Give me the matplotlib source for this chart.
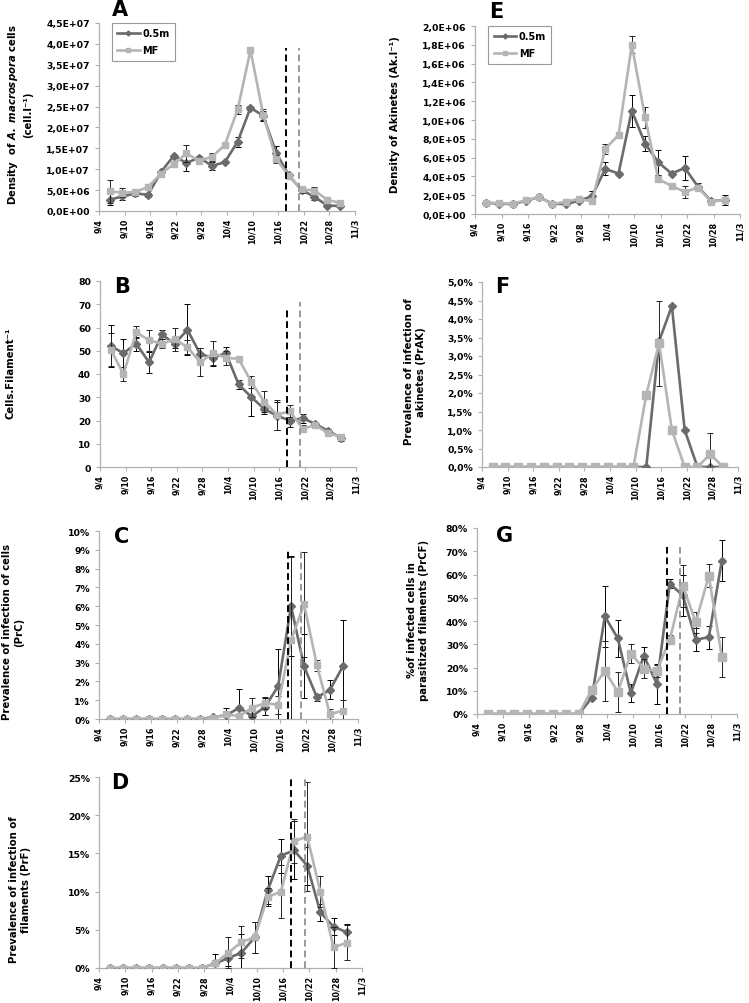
import matplotlib
matplotlib.use('Agg')
from matplotlib import pyplot as plt
from matplotlib.lines import Line2D
import numpy as np

plt.rcParams['font.family'] = 'DejaVu Sans'
plt.rcParams['font.weight'] = 'bold'

# sampling days, counted from 9/4
days = [2.5, 5.5, 8.5, 11.5, 14.5, 17.5, 20.5, 23.5, 26.5, 29.5,
        32.5, 35.5, 38.5, 41.5, 44.5, 47.5, 50.5, 53.5, 56.5]
tick_days = [0, 6, 12, 18, 24, 30, 36, 42, 48, 54, 60]
tick_labels = ['9/4', '9/10', '9/16', '9/22', '9/28', '10/4', '10/10',
               '10/16', '10/22', '10/28', '11/3']
event_days = [43.8, 46.9]

# A - cell density
a_05 = [2.7e6, 3.5e6, 4.2e6, 3.9e6, 9.3e6, 1.32e7, 1.15e7, 1.28e7, 1.08e7, 1.17e7,
        1.66e7, 2.47e7, 2.28e7, 1.4e7, 8.5e6, 5.0e6, 3.4e6, 1.3e6, 1.2e6]
a_05_err = [1.3e6, 0.8e6, 0.6e6, 0.5e6, 0.3e6, 0.3e6, 2.0e6, 0.4e6, 1.0e6, 0.3e6,
            1.2e6, 0.5e6, 1.2e6, 1.6e6, 0.5e6, 0.8e6, 0.7e6, 0.3e6, 0.3e6]
a_mf = [4.7e6, 4.4e6, 4.5e6, 5.8e6, 8.9e6, 1.12e7, 1.38e7, 1.2e7, 1.3e7, 1.58e7,
        2.43e7, 3.85e7, 2.3e7, 1.25e7, 8.4e6, 5.2e6, 4.9e6, 2.7e6, 1.9e6]
a_mf_err = [2.7e6, 1.1e6, 0.5e6, 0.6e6, 0.3e6, 0.3e6, 2.0e6, 0.5e6, 1.0e6, 0.3e6,
            1.1e6, 0.5e6, 1.3e6, 1.0e6, 0.5e6, 0.8e6, 0.8e6, 0.3e6, 0.3e6]

# B - cells per filament
b_05 = [52, 49, 53, 45, 57, 53, 59, 48.5, 47, 49, 35.5, 30, 25, 22, 20, 21, 18.5, 15.5, 12.5]
b_05_err = [9, 6, 3, 4.5, 2, 2, 11, 2.5, 3.5, 2.5, 2, 8, 2, 6, 3, 2, 1, 1, 1.5]
b_mf = [50.5, 40, 58, 54.5, 53, 55, 51.5, 45, 49, 47, 46.5, 36.5, 28, 22.5, 24, 16.5, 18, 14.5, 13]
b_mf_err = [7, 3, 2.5, 4.5, 2, 5, 3, 6, 5, 3, 1, 2.5, 4.5, 6.5, 2.5, 1.5, 1, 1, 1]

# C - prevalence of infection of cells (%)
c_05 = [0, 0, 0, 0, 0, 0, 0, 0, 0.1, 0.2, 0.6, 0.15, 0.65, 1.75, 6.0, 2.8, 1.15, 1.55, 2.8]
c_05_err = [0, 0, 0, 0, 0, 0, 0, 0, 0, 0.4, 1.0, 0.1, 0.45, 2.0, 2.65, 1.7, 0.2, 0.5, 2.45]
c_mf = [0, 0, 0, 0, 0, 0, 0, 0, 0.05, 0.25, 0.15, 0.6, 0.85, 0.75, 4.2, 6.1, 2.85, 0.25, 0.45]
c_mf_err = [0, 0, 0, 0, 0, 0, 0, 0, 0, 0.1, 0.1, 0.5, 0.3, 0.5, 4.4, 2.8, 0.3, 0.3, 0.55]

# D - prevalence of infection of filaments (%)
d_05 = [0, 0, 0, 0, 0, 0, 0, 0, 0.6, 1.3, 2.0, 4.0, 10.2, 14.7, 15.4, 13.4, 7.3, 5.4, 4.7]
d_05_err = [0, 0, 0, 0, 0, 0, 0, 0, 1.2, 1.1, 2.5, 2.0, 1.8, 2.2, 3.8, 2.5, 1.1, 1.1, 1.1]
d_mf = [0, 0, 0, 0, 0, 0, 0, 0, 0.6, 2.0, 3.4, 4.0, 9.3, 10.0, 16.6, 17.2, 10.0, 2.7, 3.3]
d_mf_err = [0, 0, 0, 0, 0, 0, 0, 0, 0.4, 2.0, 2.1, 2.0, 1.2, 3.5, 2.9, 7.1, 2.0, 2.7, 2.3]

# E - akinete density
e_05 = [1.2e5, 1.1e5, 1.05e5, 1.4e5, 1.8e5, 1.1e5, 1.05e5, 1.4e5, 1.9e5, 4.8e5,
        4.3e5, 1.1e6, 7.5e5, 5.5e5, 4.3e5, 4.9e5, 2.9e5, 1.35e5, 1.5e5]
e_05_err = [0.1e5, 0.1e5, 0.1e5, 0.1e5, 0.1e5, 0.1e5, 0.1e5, 0.1e5, 0.5e5, 0.7e5,
            0.2e5, 1.7e5, 0.8e5, 1.3e5, 0.2e5, 1.3e5, 0.4e5, 0.1e5, 0.5e5]
e_mf = [1.2e5, 1.15e5, 1.1e5, 1.45e5, 1.8e5, 1.05e5, 1.3e5, 1.6e5, 1.35e5, 6.95e5,
        8.4e5, 1.8e6, 1.03e6, 3.7e5, 3.0e5, 2.35e5, 2.8e5, 1.3e5, 1.5e5]
e_mf_err = [0.1e5, 0.1e5, 0.1e5, 0.1e5, 0.1e5, 0.1e5, 0.1e5, 0.1e5, 0.3e5, 0.55e5,
            0.3e5, 0.9e5, 1.1e5, 0.3e5, 0.1e5, 0.65e5, 0.2e5, 0.1e5, 0.3e5]

# F - prevalence of infection of akinetes (%)
f_05 = [0, 0, 0, 0, 0, 0, 0, 0, 0, 0, 0, 0, 0, 3.4, 4.35, 1.0, 0, 0, 0]
f_05_err = [0] * 19
f_mf = [0, 0, 0, 0, 0, 0, 0, 0, 0, 0, 0, 0, 1.95, 3.35, 1.0, 0, 0, 0.35, 0]
f_mf_err = [0, 0, 0, 0, 0, 0, 0, 0, 0, 0, 0, 0, 0, 1.15, 0, 0, 0, 0.57, 0]

# G - % infected cells in parasitized filaments
g_05 = [0, 0, 0, 0, 0, 0, 0, 0, 7, 42, 32.5, 9, 25, 13, 56, 51, 32, 33, 66]
g_05_err = [0, 0, 0, 0, 0, 0, 0, 0, 0, 13, 8, 4, 4, 8.5, 2, 9, 5, 5, 8.7]
g_mf = [0, 0, 0, 0, 0, 0, 0, 0, 10.5, 18.5, 9.5, 26, 19.5, 18.5, 32, 55, 39.5, 59.5, 24.5]
g_mf_err = [0, 0, 0, 0, 0, 0, 0, 0, 0, 13, 8.5, 4, 4, 2.5, 2, 9, 4.5, 5, 8.7]

DARK = '#6b6b6b'
LIGHT = '#b5b5b5'
W, H = 749, 1004
YTICK_FS = 6.7
XTICK_FS = 5.8


def sci_fmt(v, pos):
    if v == 0:
        return '0,0E+00'
    e = int(np.floor(np.log10(abs(v)) + 1e-9))
    m = v / 10 ** e
    return f'{m:.1f}'.replace('.', ',') + f'E+{e:02d}'


def pct_fmt(decimals):
    def f(v, pos):
        return f'{v:.{decimals}f}'.replace('.', ',') + '%'
    return f


def make_ax(fig, box):
    x0, x1, y0, y1 = box
    ax = fig.add_axes([x0 / W, 1 - y1 / H, (x1 - x0) / W, (y1 - y0) / H])
    for s in ['top', 'right']:
        ax.spines[s].set_visible(False)
    for s in ['left', 'bottom']:
        ax.spines[s].set_color('#b0b0b0')
        ax.spines[s].set_linewidth(0.9)
    ax.set_xlim(0, 60)
    ax.set_xticks(tick_days)
    ax.set_xticklabels(tick_labels, rotation=90, fontsize=XTICK_FS, fontweight='bold')
    ax.tick_params(axis='both', colors='#b0b0b0', labelcolor='black', length=3, width=0.8)
    ax.tick_params(axis='x', pad=2)
    ax.tick_params(axis='y', labelsize=YTICK_FS)
    return ax


def draw(ax, y05, e05, ymf, emf, ms_sq=4.5):
    ax.errorbar(days, y05, yerr=e05, color=DARK, marker='D', ms=3.8, lw=1.9,
                ecolor='black', elinewidth=0.7, capsize=2, capthick=0.7, zorder=3)
    ax.errorbar(days, ymf, yerr=emf, color=LIGHT, marker='s', ms=ms_sq, lw=1.9,
                ecolor='#222222', elinewidth=0.7, capsize=2, capthick=0.7, zorder=4)


def add_legend(ax):
    handles = [Line2D([], [], color=DARK, marker='D', ms=2.5, lw=1.9),
               Line2D([], [], color=LIGHT, marker='s', ms=2.8, lw=1.9)]
    leg = ax.legend(handles, ['0.5m', 'MF'], loc='upper left', bbox_to_anchor=(0.05, 1.0),
                    fancybox=False, edgecolor='#999999', fontsize=7.0, borderaxespad=0,
                    handlelength=2.3, labelspacing=0.7, borderpad=0.55, handletextpad=0.3,
                    framealpha=1)
    leg.get_frame().set_linewidth(0.8)
    for t in leg.get_texts():
        t.set_fontweight('bold')


def events(ax, top_black, top_gray):
    ax.vlines(event_days[0], 0, top_black, colors='black', linestyles=(0, (3.5, 2)), lw=1.4, zorder=5)
    ax.vlines(event_days[1], 0, top_gray, colors='#999999', linestyles=(0, (3.5, 2)), lw=1.4, zorder=5)


def letter(fig, x, y, s):
    fig.text(x / W, 1 - y / H, s, fontsize=15, fontweight='bold', ha='center', va='center')


def ylab(fig, x, y, s):
    fig.text(x / W, 1 - y / H, s, rotation=90, fontsize=7.3, fontweight='bold',
             ha='center', va='center', multialignment='center')


fig = plt.figure(figsize=(W / 100, H / 100), dpi=100)

# A
ax = make_ax(fig, (99, 355, 24, 212))
ax.set_ylim(0, 4.5e7)
ax.set_yticks(np.arange(0, 4.51e7, 5e6))
ax.yaxis.set_major_formatter(sci_fmt)
draw(ax, a_05, a_05_err, a_mf, a_mf_err)
events(ax, 3.9e7, 3.9e7)
add_legend(ax)
letter(fig, 120, 10, 'A')
ylab(fig, 13, 115, 'Density  of $\\mathbfit{A.\\ macrospora}$ cells')
ylab(fig, 28, 115, '(cell.l⁻¹)')

# B
ax = make_ax(fig, (100, 356, 282, 468))
ax.set_ylim(0, 80)
ax.set_yticks(range(0, 81, 10))
draw(ax, b_05, b_05_err, b_mf, b_mf_err)
events(ax, 69, 71)
letter(fig, 122, 287, 'B')
ylab(fig, 11, 373, 'Cells.Filament⁻¹')

# C
ax = make_ax(fig, (99, 358, 532, 720))
ax.set_ylim(0, 10)
ax.set_yticks(range(0, 11))
ax.yaxis.set_major_formatter(pct_fmt(0))
draw(ax, c_05, c_05_err, c_mf, c_mf_err)
events(ax, 9.1, 9.1)
letter(fig, 122, 537, 'C')
ylab(fig, 13, 632, 'Prevalence of infection of cells\n(PrC)')

# D
ax = make_ax(fig, (99, 362, 778, 969))
ax.set_ylim(0, 25)
ax.set_yticks(range(0, 26, 5))
ax.yaxis.set_major_formatter(pct_fmt(0))
draw(ax, d_05, d_05_err, d_mf, d_mf_err)
events(ax, 25, 25)
letter(fig, 120, 783, 'D')
ylab(fig, 20, 890, 'Prevalence of infection of\nfilaments (PrF)')

# E
ax = make_ax(fig, (475, 740, 27, 215))
ax.set_ylim(0, 2.0e6)
ax.set_yticks(np.arange(0, 2.01e6, 2e5))
ax.yaxis.set_major_formatter(sci_fmt)
draw(ax, e_05, e_05_err, e_mf, e_mf_err)
add_legend(ax)
letter(fig, 496, 12, 'E')
ylab(fig, 395, 115, 'Density of Akinetes (Ak.l⁻¹)')

# F
ax = make_ax(fig, (482, 738, 283, 468))
ax.set_ylim(0, 5)
ax.set_yticks(np.arange(0, 5.01, 0.5))
ax.yaxis.set_major_formatter(pct_fmt(1))
draw(ax, f_05, f_05_err, f_mf, f_mf_err, ms_sq=6)
letter(fig, 502, 287, 'F')
ylab(fig, 415, 372, 'Prevalence of infection of\nakinetes (PrAK)')

# G
ax = make_ax(fig, (477, 737, 529, 715))
ax.set_ylim(0, 80)
ax.set_yticks(range(0, 81, 10))
ax.yaxis.set_major_formatter(pct_fmt(0))
draw(ax, g_05, g_05_err, g_mf, g_mf_err, ms_sq=5.5)
events(ax, 72, 72)
letter(fig, 505, 536, 'G')
ylab(fig, 418, 620, '%of infected cells in\nparasitized filaments (PrCF)')

fig.savefig('out.png', dpi=100)
